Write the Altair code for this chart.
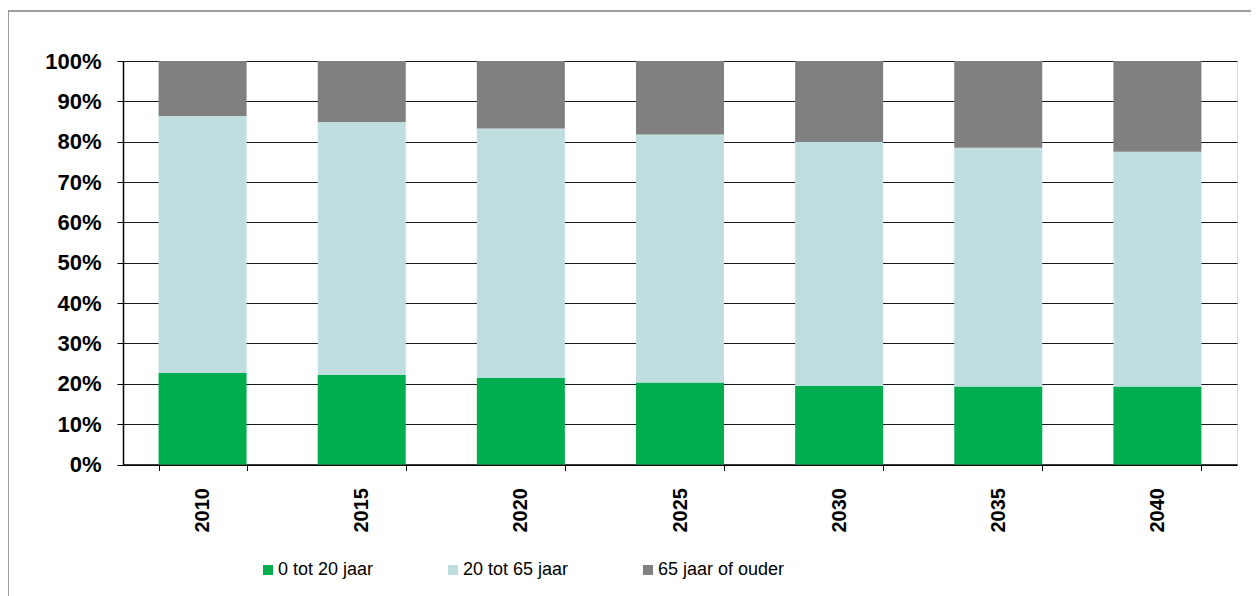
import altair as alt
import pandas as pd

years = ["2010", "2015", "2020", "2025", "2030", "2035", "2040"]
young = [22.7, 22.2, 21.5, 20.3, 19.5, 19.3, 19.3]
working = [63.7, 62.7, 61.8, 61.5, 60.4, 59.2, 58.2]
old = [13.6, 15.1, 16.7, 18.2, 20.1, 21.5, 22.5]
groups = ["0 tot 20 jaar", "20 tot 65 jaar", "65 jaar of ouder"]
colors = ["#00AE4F", "#C0DEE0", "#808080"]
y_ticks = [0, 0.1, 0.2, 0.3, 0.4, 0.5, 0.6, 0.7, 0.8, 0.9, 1.0]

rows = []
for i, yr in enumerate(years):
    for k, (g, vals) in enumerate(zip(groups, [young, working, old])):
        rows.append({"jaar": yr, "groep": g, "aandeel": vals[i] / 100, "volgorde": k})
df = pd.DataFrame(rows)

FONT = "Liberation Sans"
W, H = 1114, 403.5

bars = alt.Chart(df).mark_bar().encode(
    x=alt.X(
        "jaar:N",
        sort=years,
        scale=alt.Scale(paddingInner=0.447, paddingOuter=0.2235),
        axis=alt.Axis(
            title=None, labelAngle=-90, labelFont=FONT, labelFontSize=20,
            labelFontWeight="bold", labelColor="#000", labelPadding=17,
            tickBand="extent", tickSize=6, tickColor="#000", domainColor="#000",
            domainWidth=1.5, grid=False,
        ),
    ),
    y=alt.Y(
        "aandeel:Q",
        stack="zero",
        scale=alt.Scale(domain=[0, 1], nice=False),
        axis=alt.Axis(
            title=None, format=".0%", values=y_ticks, labelFont=FONT,
            labelFontSize=22, labelFontWeight="bold", labelColor="#000",
            tickSize=6, tickColor="#000", labelPadding=16,
            domainColor="#000", domainWidth=1.5,
            grid=True, gridColor="#1a1a1a", gridWidth=1,
        ),
    ),
    color=alt.Color(
        "groep:N",
        scale=alt.Scale(domain=groups, range=colors),
        legend=alt.Legend(
            title=None, orient="none", legendX=136, legendY=500,
            direction="horizontal", symbolType="square", symbolSize=100,
            symbolStrokeWidth=0, labelFont=FONT, labelFontSize=18,
            labelColor="#000", labelOffset=1, columnPadding=70, padding=0,
        ),
    ),
    order=alt.Order("volgorde:Q", sort="ascending"),
)

frame = alt.Chart(pd.DataFrame({"f": [0]})).mark_rect(
    fillOpacity=0, stroke="#808080", strokeWidth=1.5
).encode(
    x=alt.value(-115), x2=alt.value(1300), y=alt.value(-50), y2=alt.value(900)
)

chart = alt.layer(frame, bars).properties(
    width=W,
    height=H,
    padding={"left": 115, "top": 53, "right": 14, "bottom": 131},
    autosize="none",
).configure_view(
    stroke="#808080", strokeWidth=2
).configure(background="white")

chart.save("out.html", embed_options={"renderer": "svg", "actions": False})
